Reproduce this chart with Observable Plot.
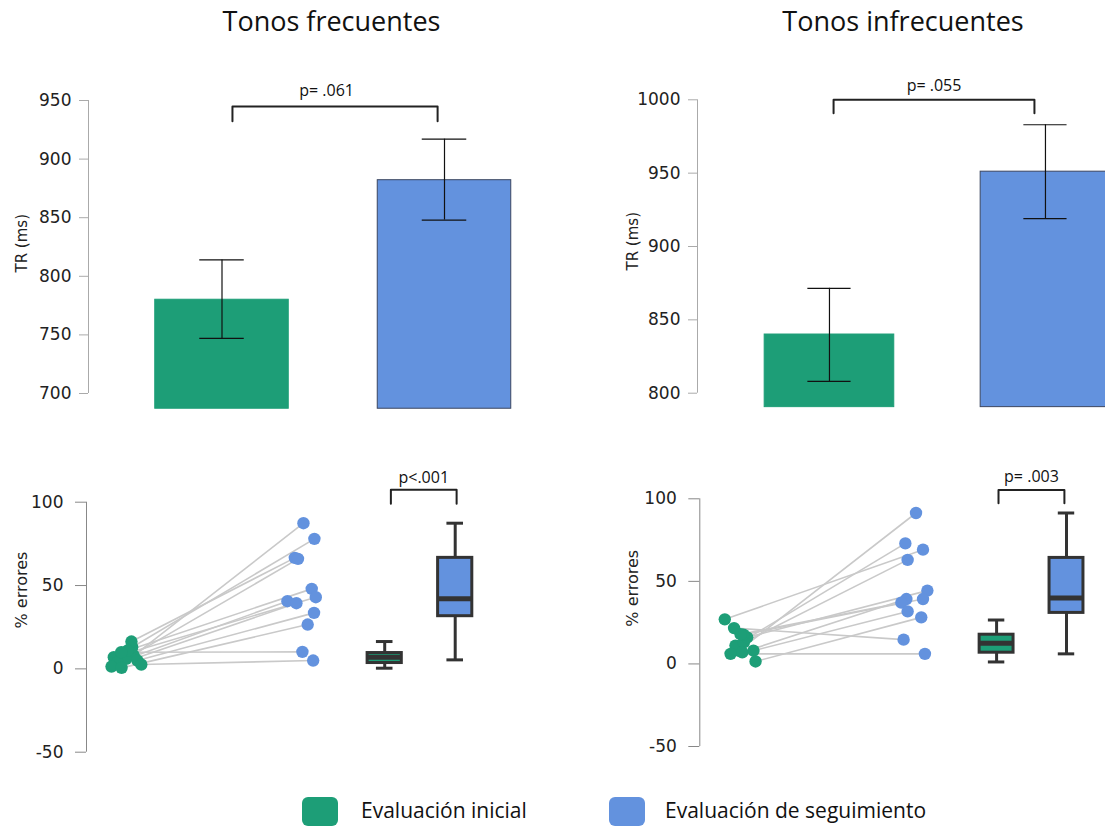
<!DOCTYPE html>
<html><head><meta charset="utf-8">
<script src="https://cdn.jsdelivr.net/npm/d3@7"></script>
<script src="https://cdn.jsdelivr.net/npm/@observablehq/plot@0.6"></script>
<style>
html,body{margin:0;padding:0;background:#fff;overflow:hidden;}
#root{position:relative;width:1105px;height:827px;overflow:hidden;}
.panel{position:absolute;}
.title{position:absolute;font-family:"Open Sans",Lato,sans-serif;font-size:27px;line-height:28px;color:#111;transform:translateX(-50%);white-space:nowrap;}
.lg-box{position:absolute;width:36px;height:29px;border-radius:6px;}
.lg-text{position:absolute;font-family:"Open Sans",Lato,sans-serif;font-size:21px;line-height:21px;color:#111;white-space:nowrap;}
</style></head><body><div id="root"></div>
<script>
// ---------- data ----------
const groups = ["Evaluación inicial", "Evaluación de seguimiento"];
const colors = ["#1d9e77", "#6392de"];
const barEdges = ["#1d9e77", "#3b4660"];
const panelTitles = ["Tonos frecuentes", "Tonos infrecuentes"];

// Reaction time (TR, ms): mean and error bar limits
const trFreqMean = [780, 882];
const trFreqLo = [747, 848];
const trFreqHi = [814, 917];
const trInfMean = [840, 951];
const trInfLo = [808, 919];
const trInfHi = [871.5, 983];
const trFreqTicks = [700, 750, 800, 850, 900, 950];
const trInfTicks = [800, 850, 900, 950, 1000];
const trFreqFloor = 687;
const trInfFloor = 790.5;

// % errores per participant (paired)
const errFreqIni = [8, 13, 16.4, 6, 11, 7, 4, 1.4, 5, 0.6, 10, 2.6];
const errFreqSeg = [87.4, 78, 66.6, 66, 48, 43, 40.6, 39.4, 33.6, 26.6, 10.2, 5];
const errFreqJitIni = [0.041, 0.032, 0.028, -0.002, 0.006, -0.072, -0.051, -0.085, 0.062, -0.028, -0.030, 0.084];
const errFreqJitSeg = [0.004, 0.066, -0.045, -0.027, 0.051, 0.074, -0.087, -0.036, 0.064, 0.028, -0.002, 0.059];
const errInfIni = [8, 11.1, 27, 13, 16.1, 17.7, 7, 18, 8, 1.5, 21.7, 6.1];
const errInfSeg = [91.4, 73, 69.2, 63, 44.4, 39.3, 39.3, 37.1, 31.8, 28.2, 14.7, 6.1];
const errInfJitIni = [-0.010, -0.029, -0.090, 0.019, 0.038, 0.017, 0.010, 0, 0.074, 0.086, -0.037, -0.057];
const errInfJitSeg = [0.004, -0.057, 0.044, -0.044, 0.069, 0.044, -0.051, -0.080, -0.044, 0.034, -0.067, 0.055];
const errTicks = [-50, 0, 50, 100];

// box plot summaries [inicial, seguimiento]
const boxFreqMin = [0.4, 5.4], boxFreqQ1 = [3.5, 31.6], boxFreqMed = [7, 42], boxFreqQ3 = [9.5, 66.6], boxFreqMax = [16.4, 87.4];
const boxInfMin = [1.2, 6.1], boxInfQ1 = [6.8, 30.9], boxInfMed = [12.6, 40], boxInfQ3 = [17.7, 64.2], boxInfMax = [26.6, 91.4];

// significance annotations
const pLabels = ["p= .061", "p= .055", "p<.001", "p= .003"];

// ---------- layout ----------
const dotPos = [1, 2];
const boxPos = [2.465, 2.865];
const root = document.getElementById("root");
const tickFont = "DejaVu Sans";
const annFont = "Open Sans";

function place(node, left, top) {
  const d = document.createElement("div");
  d.className = "panel";
  d.style.left = left + "px"; d.style.top = top + "px";
  d.appendChild(node);
  root.appendChild(d);
}

function bracketMarks(b, label) {
  const pts = [[b.x1, b.leg], [b.x1, b.top], [b.x2, b.top], [b.x2, b.leg]];
  return [
    Plot.line(pts, {x: d => d[0], y: d => d[1], stroke: "#222", strokeWidth: 2}),
    Plot.text([label], {x: b.tx ?? (b.x1 + b.x2) / 2, y: b.text, text: d => d, fontSize: 16, fontFamily: annFont, fill: "#111"})
  ];
}

function axisMarks(L, ticks, yLabel, axisColor, tickSize, tickPadding, labSize) {
  return [
    Plot.ruleX([L.xDomain[0]], {y1: ticks[0], y2: ticks[ticks.length - 1], stroke: axisColor}),
    Plot.axisY(ticks, {tickSize, tickPadding, tickFormat: d => String(d), stroke: axisColor, fill: "#222", color: "#222", fontSize: 17, fontFamily: tickFont, label: null}),
    Plot.text([yLabel], {frameAnchor: "left", rotate: -90, dx: L.labDx, dy: L.labDy, text: d => d, fontSize: labSize, fontFamily: tickFont, fill: "#222"})
  ];
}

function trPanel(L, means, los, his, ticks, floor, pLabel, br) {
  const rows = groups.map((g, i) => ({g, pos: dotPos[i], mean: means[i], lo: los[i], hi: his[i], color: colors[i], edge: barEdges[i]}));
  return Plot.plot({
    width: L.width, height: L.height,
    marginLeft: L.ml, marginRight: L.mr, marginTop: L.mt, marginBottom: L.mb,
    x: {domain: L.xDomain, axis: null},
    y: {domain: [ticks[0], ticks[ticks.length - 1]], axis: null},
    color: {type: "identity"},
    style: {fontFamily: tickFont, fontSize: "16px", color: "#222", background: "transparent", overflow: "visible"},
    marks: [
      Plot.rect(rows, {x1: d => d.pos - 0.3, x2: d => d.pos + 0.3, y1: floor, y2: "mean", fill: "color", stroke: "edge", strokeWidth: 1}),
      Plot.ruleX(rows, {x: "pos", y1: "lo", y2: "hi", stroke: "#111", strokeWidth: 1.2}),
      Plot.ruleY(rows, {y: "lo", x1: d => d.pos - 0.1, x2: d => d.pos + 0.1, stroke: "#111", strokeWidth: 1.2}),
      Plot.ruleY(rows, {y: "hi", x1: d => d.pos - 0.1, x2: d => d.pos + 0.1, stroke: "#111", strokeWidth: 1.2}),
      ...axisMarks(L, ticks, "TR (ms)", "#aaa", 9, 8, 15),
      ...bracketMarks(br, pLabel)
    ]
  });
}

function errPanel(L, ini, seg, jIni, jSeg, bMin, bQ1, bMed, bQ3, bMax, pLabel, br) {
  const pairs = ini.map((v, i) => ({x1: dotPos[0] + jIni[i], y1: v, x2: dotPos[1] + jSeg[i], y2: seg[i]}));
  const box = groups.map((g, i) => ({pos: boxPos[i], min: bMin[i], q1: bQ1[i], med: bMed[i], q3: bQ3[i], max: bMax[i], color: colors[i]}));
  const hw = 0.097, cw = 0.047;
  return Plot.plot({
    width: L.width, height: L.height,
    marginLeft: L.ml, marginRight: L.mr, marginTop: L.mt, marginBottom: L.mb,
    x: {domain: L.xDomain, axis: null},
    y: {domain: [errTicks[0], errTicks[errTicks.length - 1]], axis: null},
    color: {type: "identity"},
    style: {fontFamily: tickFont, fontSize: "16px", color: "#222", background: "transparent", overflow: "visible"},
    marks: [
      Plot.link(pairs, {x1: "x1", y1: "y1", x2: "x2", y2: "y2", stroke: "#c9c9c9", strokeWidth: 1.6}),
      Plot.dot(pairs, {x: "x1", y: "y1", r: 6.2, fill: colors[0]}),
      Plot.dot(pairs, {x: "x2", y: "y2", r: 6.2, fill: colors[1]}),
      Plot.ruleX(box, {x: "pos", y1: "q3", y2: "max", stroke: "#333", strokeWidth: 3}),
      Plot.ruleX(box, {x: "pos", y1: "min", y2: "q1", stroke: "#333", strokeWidth: 3}),
      Plot.ruleY(box, {y: "max", x1: d => d.pos - cw, x2: d => d.pos + cw, stroke: "#333", strokeWidth: 3}),
      Plot.ruleY(box, {y: "min", x1: d => d.pos - cw, x2: d => d.pos + cw, stroke: "#333", strokeWidth: 3}),
      Plot.rect(box, {x1: d => d.pos - hw, x2: d => d.pos + hw, y1: "q1", y2: "q3", fill: "color", stroke: "#333", strokeWidth: 3}),
      Plot.ruleY(box, {y: "med", x1: d => d.pos - hw, x2: d => d.pos + hw, stroke: "#333", strokeWidth: 5}),
      ...axisMarks(L, errTicks, "% errores", "#888", 11, 12, 16),
      ...bracketMarks(br, pLabel)
    ]
  });
}

const LTL = {width: 590, height: 360, ml: 88, mr: 12.5, mt: 40, mb: 27, xDomain: [0.4, 2.6], labDx: -66.5, labDy: 25.5};
const LTR = {width: 515, height: 360, ml: 107, mr: 0, mt: 39.3, mb: 27.3, xDomain: [0.389, 2.278], labDx: -64.5, labDy: 24};
const LBL = {width: 590, height: 310, ml: 86, mr: 111.5, mt: 41.7, mb: 18.3, xDomain: [0.773, 3.0], labDx: -65, labDy: 1.3};
const LBR = {width: 515, height: 310, ml: 109.3, mr: 15.4, mt: 38.3, mb: 24, xDomain: [0.767, 3.0], labDx: -66.8, labDy: 4};

place(trPanel(LTL, trFreqMean, trFreqLo, trFreqHi, trFreqTicks, trFreqFloor, pLabels[0],
  {x1: 1.047, x2: 1.969, top: 944.9, leg: 932.3, text: 958.5, tx: 1.47}), 0, 60);
place(trPanel(LTR, trInfMean, trInfLo, trInfHi, trInfTicks, trInfFloor, pLabels[1],
  {x1: 1.019, x2: 1.949, top: 1000, leg: 990.9, text: 1009.7}), 590, 60);
place(errPanel(LBL, errFreqIni, errFreqSeg, errFreqJitIni, errFreqJitSeg, boxFreqMin, boxFreqQ1, boxFreqMed, boxFreqQ3, boxFreqMax, pLabels[2],
  {x1: 2.50, x2: 2.873, top: 107.4, leg: 99, text: 114.8}), 0, 460);
place(errPanel(LBR, errInfIni, errInfSeg, errInfJitIni, errInfJitSeg, boxInfMin, boxInfQ1, boxInfMed, boxInfQ3, boxInfMax, pLabels[3],
  {x1: 2.476, x2: 2.853, top: 105.4, leg: 97.3, text: 113.1}), 590, 460);

// titles
[[331.5, panelTitles[0]], [903, panelTitles[1]]].forEach(([cx, t]) => {
  const d = document.createElement("div");
  d.className = "title"; d.textContent = t;
  d.style.left = cx + "px"; d.style.top = "7px";
  root.appendChild(d);
});

// legend
[[302, 361], [609, 665]].forEach(([bx, tx], i) => {
  const b = document.createElement("div");
  b.className = "lg-box"; b.style.left = bx + "px"; b.style.top = "797px"; b.style.background = colors[i];
  root.appendChild(b);
  const t = document.createElement("div");
  t.className = "lg-text"; t.textContent = groups[i];
  t.style.left = tx + "px"; t.style.top = "800px";
  root.appendChild(t);
});
</script></body></html>
